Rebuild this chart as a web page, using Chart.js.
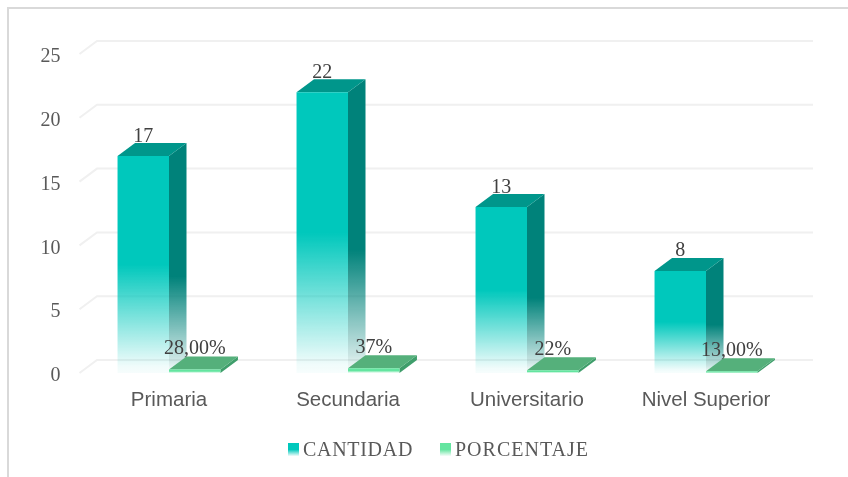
<!DOCTYPE html>
<html><head><meta charset="utf-8">
<style>
html,body{margin:0;padding:0;background:#fff;width:848px;height:477px;overflow:hidden}
#frame{position:absolute;left:7px;top:7px;width:841px;height:470px;border-left:2px solid #d9d9d9;border-top:2px solid #d9d9d9;box-sizing:border-box}
#wrap{position:absolute;left:0;top:0;width:848px;height:477px}
</style>
<script src="https://cdn.jsdelivr.net/npm/chart.js@4"></script>
</head><body>
<div id="frame"></div>
<div id="wrap"><canvas id="c" width="848" height="477"></canvas></div>
<script>
const categories = ['Primaria','Secundaria','Universitario','Nivel Superior'];
const cantidad = [17,22,13,8];
const porcentaje = [0.28,0.37,0.22,0.13];
const cantidadLabels = ['17','22','13','8'];
const porcentajeLabels = ['28,00%','37%','22%','13,00%'];
const yTicks = [0,5,10,15,20,25];
const seriesNames = ['CANTIDAD','PORCENTAJE'];

const DX = 17.5, DY = 13;
const serif = '"Liberation Serif", serif';
const sans = '"Liberation Sans", Arial, sans-serif';

function frontGrad(ctx, top, bottom, rgb){
  const g = ctx.createLinearGradient(0, top, 0, bottom);
  g.addColorStop(0, `rgba(${rgb},1)`);
  g.addColorStop(0.5, `rgba(${rgb},1)`);
  g.addColorStop(0.97, `rgba(${rgb},0.06)`);
  g.addColorStop(1, `rgba(${rgb},0.03)`);
  return g;
}
function barFill(rgb){
  return c => {
    if (c.type !== 'data' || !c.chart.chartArea) return `rgb(${rgb})`;
    const y = c.chart.scales.y;
    return frontGrad(c.chart.ctx, y.getPixelForValue(c.raw), y.getPixelForValue(0), rgb);
  };
}

const grid3d = {
  id:'grid3d',
  beforeDatasetsDraw(chart){
    const {ctx, chartArea:a, scales:{y}} = chart;
    ctx.save();
    ctx.strokeStyle = '#f0f0f0'; ctx.lineWidth = 2;
    yTicks.forEach(v=>{
      const p = y.getPixelForValue(v);
      ctx.beginPath();
      ctx.moveTo(a.left, p);
      ctx.lineTo(a.left+DX, p-DY);
      ctx.lineTo(a.right+DX, p-DY);
      ctx.stroke();
    });
    const sides = [['0,130,122','#00968B'],['63,158,107','#55B07B']];
    chart.data.datasets.forEach((ds,di)=>{
      chart.getDatasetMeta(di).data.forEach(b=>{
        const l=b.x-b.width/2, r=b.x+b.width/2, t=b.y, bot=b.base;
        const top = t-DY, end = bot;
        const g = ctx.createLinearGradient(0, top, 0, end);
        const rgb = sides[di][0];
        if (di===0){
          g.addColorStop(0,`rgba(${rgb},1)`);
          g.addColorStop(0.58,`rgba(${rgb},1)`);
          g.addColorStop(0.94,`rgba(${rgb},0.2)`);
          g.addColorStop(1,`rgba(${rgb},0)`);
        } else {
          g.addColorStop(0,`rgba(${rgb},1)`);
          g.addColorStop(1,`rgba(${rgb},1)`);
        }
        ctx.fillStyle = g;
        ctx.beginPath();
        ctx.moveTo(r,t); ctx.lineTo(r+DX,t-DY); ctx.lineTo(r+DX,bot-DY); ctx.lineTo(r,bot);
        ctx.closePath(); ctx.fill();
        ctx.fillStyle = sides[di][1];
        ctx.beginPath();
        ctx.moveTo(l,t); ctx.lineTo(l+DX,t-DY); ctx.lineTo(r+DX,t-DY); ctx.lineTo(r,t);
        ctx.closePath(); ctx.fill();
      });
    });
    ctx.restore();
  },
  afterDatasetsDraw(chart){
    const {ctx} = chart;
    ctx.save();
    ctx.fillStyle = '#404040';
    ctx.font = `20px ${serif}`;
    ctx.textAlign = 'center';
    ctx.textBaseline = 'alphabetic';
    chart.getDatasetMeta(0).data.forEach((b,i)=>{
      ctx.fillText(cantidadLabels[i], b.x, b.y-DY-1.5);
    });
    chart.getDatasetMeta(1).data.forEach((b,i)=>{
      ctx.fillText(porcentajeLabels[i], b.x, b.y-DY-2.5);
    });
    ctx.restore();
    const entries = [[288,303,'0,200,188','0.7px'],[440,455,'100,229,160','1px']];
    ctx.save();
    ctx.font = `20px ${serif}`;
    ctx.textBaseline = 'alphabetic';
    ctx.textAlign = 'left';
    entries.forEach((e,i)=>{
      if ('letterSpacing' in ctx) ctx.letterSpacing = e[3];
      const g = ctx.createLinearGradient(0,443,0,456);
      g.addColorStop(0,`rgba(${e[2]},1)`);
      g.addColorStop(0.5,`rgba(${e[2]},1)`);
      g.addColorStop(1,`rgba(${e[2]},0.05)`);
      ctx.fillStyle = g;
      ctx.fillRect(e[0],443,11,13);
      ctx.fillStyle = '#595959';
      ctx.fillText(seriesNames[i], e[1], 455.5);
    });
    ctx.restore();
  }
};

new Chart(document.getElementById('c'), {
  type:'bar',
  data:{
    labels:categories,
    datasets:[
      {label:seriesNames[0], data:cantidad, backgroundColor:barFill('0,200,188'), borderWidth:0, categoryPercentage:0.575, barPercentage:1},
      {label:seriesNames[1], data:porcentaje, backgroundColor:barFill('100,229,160'), borderWidth:0, categoryPercentage:0.575, barPercentage:1}
    ]
  },
  options:{
    responsive:false, animation:false,
    layout:{padding:{left:0,right:52.5,top:54,bottom:0}},
    plugins:{legend:{display:false},tooltip:{enabled:false},title:{display:false}},
    scales:{
      x:{
        grid:{display:false}, border:{display:false},
        ticks:{color:'#595959',font:{family:sans,size:20.5},padding:7,maxRotation:0,autoSkip:false},
        afterFit(s){s.height=104;}
      },
      y:{
        min:0,max:25,
        grid:{display:false}, border:{display:false},
        ticks:{stepSize:5,color:'#595959',font:{family:serif,size:20},padding:11,labelOffset:3},
        afterFit(s){s.width=79.5;}
      }
    }
  },
  plugins:[grid3d]
});
</script>
</body></html>
